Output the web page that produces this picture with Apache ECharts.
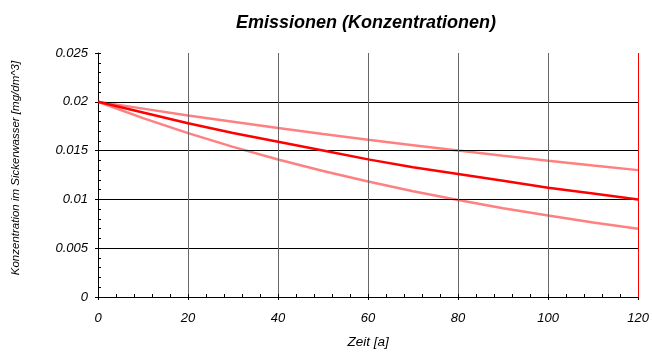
<!DOCTYPE html>
<html>
<head>
<meta charset="utf-8">
<script src="https://cdn.jsdelivr.net/npm/echarts@6/dist/echarts.min.js"></script>
<style>html,body{margin:0;padding:0;background:#fff}#c{width:652px;height:354px}</style>
</head>
<body>
<div id="c"></div>
<script>
const years = [0, 10, 20, 30, 40, 50, 60, 70, 80, 90, 100, 110, 120];
const upper = [0.02, 0.0193, 0.0186, 0.01796, 0.01732, 0.01671, 0.01612, 0.01556, 0.0150, 0.01448, 0.01397, 0.01348, 0.013];
const middle = [0.02, 0.0189, 0.0178, 0.0168, 0.0159, 0.0150, 0.0141, 0.0133, 0.0126, 0.0119, 0.0112, 0.0106, 0.0100];
const lower = [0.02, 0.01833, 0.01679, 0.01538, 0.01409, 0.01291, 0.01183, 0.01084, 0.00993, 0.0091, 0.00834, 0.00764, 0.007];
const titleText = 'Emissionen (Konzentrationen)';
const xName = 'Zeit [a]';
const yName = 'Konzentration im Sickerwasser [mg/dm^3]';
const yMax = 0.025;
const xMax = 120;

const font = 'Liberation Sans, Arial, sans-serif';
const pair = arr => years.map((x, i) => [x, arr[i]]);
const blank = {axisLabel: {show: false}, splitLine: {show: false}, minorTick: {show: false}};

const chart = echarts.init(document.getElementById('c'), null, {renderer: 'canvas'});
chart.setOption({
  animation: false,
  backgroundColor: '#fff',
  title: {
    text: titleText, left: 361, top: 9, textAlign: 'center',
    textStyle: {fontFamily: font, fontSize: 18, fontWeight: 'bold', fontStyle: 'italic', color: '#000'}
  },
  grid: {left: 98, right: 12, top: 53, bottom: 57, show: false},
  xAxis: [{
    type: 'value', min: 0, max: xMax, interval: 20, position: 'bottom',
    name: xName, nameLocation: 'middle', nameGap: 38,
    nameTextStyle: {fontFamily: font, fontSize: 13.5, fontStyle: 'italic', color: '#000'},
    axisLine: {show: true, onZero: false, lineStyle: {color: '#000', width: 1}},
    axisTick: {show: true, inside: true, length: 3, lineStyle: {color: '#000'}},
    minorTick: {show: true, splitNumber: 5, length: 3, lineStyle: {color: '#000'}},
    axisLabel: {fontFamily: font, fontSize: 13, fontStyle: 'italic', color: '#000', margin: 15},
    splitLine: {show: true, showMinLine: false, showMaxLine: false, lineStyle: {color: '#666', width: 1}},
    z: 5
  }, Object.assign({
    type: 'value', min: 0, max: xMax, interval: 20, position: 'bottom', offset: 0,
    axisLine: {show: false, onZero: false},
    axisTick: {show: true, inside: false, length: 3, lineStyle: {color: '#000'}}, z: 5
  }, blank)],
  yAxis: [{
    type: 'value', min: 0, max: yMax, interval: 0.005, position: 'left',
    name: yName, nameLocation: 'middle', nameGap: 76,
    nameTextStyle: {fontFamily: font, fontSize: 11.5, fontStyle: 'italic', color: '#000', padding: [0, 0, 0, 14]},
    axisLine: {show: true, onZero: false, lineStyle: {color: '#000', width: 1}},
    axisTick: {show: true, inside: true, length: 3, lineStyle: {color: '#000'}},
    minorTick: {show: true, splitNumber: 5, length: 3, lineStyle: {color: '#000'}},
    axisLabel: {fontFamily: font, fontSize: 13, fontStyle: 'italic', color: '#000', margin: 10},
    splitLine: {show: true, showMinLine: false, showMaxLine: false, lineStyle: {color: '#000', width: 1}},
    z: 5
  }, Object.assign({
    type: 'value', min: 0, max: yMax, interval: 0.005, position: 'left', offset: 0,
    axisLine: {show: false, onZero: false},
    axisTick: {show: true, inside: false, length: 3, lineStyle: {color: '#000'}}, z: 5
  }, blank)],
  series: [
    {type: 'line', data: pair(upper), symbol: 'none', lineStyle: {color: '#ff8080', width: 2.5}, z: 3},
    {type: 'line', data: pair(lower), symbol: 'none', lineStyle: {color: '#ff8080', width: 2.5}, z: 3},
    {type: 'line', data: pair(middle), symbol: 'none', clip: false, lineStyle: {color: '#ff0000', width: 2.5}, z: 10,
     markLine: {
       silent: true, symbol: 'none', z: 20, animation: false,
       label: {show: false},
       lineStyle: {color: '#ff0000', width: 1, type: 'solid'},
       emphasis: {disabled: true},
       data: [{yAxis: yMax}, {xAxis: xMax}]
     }}
  ]
});
</script>
</body>
</html>
